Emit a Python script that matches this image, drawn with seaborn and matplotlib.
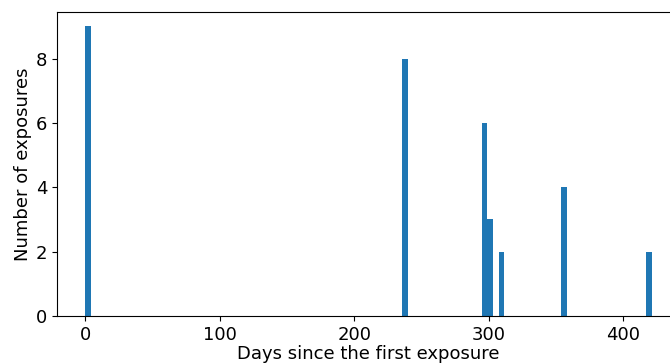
import matplotlib
matplotlib.use("Agg")
import matplotlib.pyplot as plt
import seaborn as sns
import pandas as pd

# Exposure days (days since first exposure) and number of exposures on that day
days = [0, 238, 297, 301, 310, 356, 421]
counts = [9, 8, 6, 3, 2, 4, 2]

df = pd.DataFrame({"day": days, "count": counts})

plt.rcParams["font.family"] = ["DejaVu Sans"]
plt.rcParams["font.size"] = 13

fig = plt.figure(figsize=(6.7, 3.63), dpi=100)
ax = fig.add_axes([0.085, 0.1295, 0.93, 0.8375])

sns.histplot(data=df, x="day", weights="count", bins=100, ax=ax,
             color="#1f77b4", alpha=1.0, linewidth=0, edgecolor="none")

ax.set_xlabel("Days since the first exposure", fontsize=13, labelpad=1)
ax.set_ylabel("Number of exposures", fontsize=13, labelpad=3)
ax.set_yticks([0, 2, 4, 6, 8])
ax.set_xticks([0, 100, 200, 300, 400])
ax.tick_params(labelsize=13)
ax.margins(x=0.05)

fig.savefig("out.png", dpi=100)
